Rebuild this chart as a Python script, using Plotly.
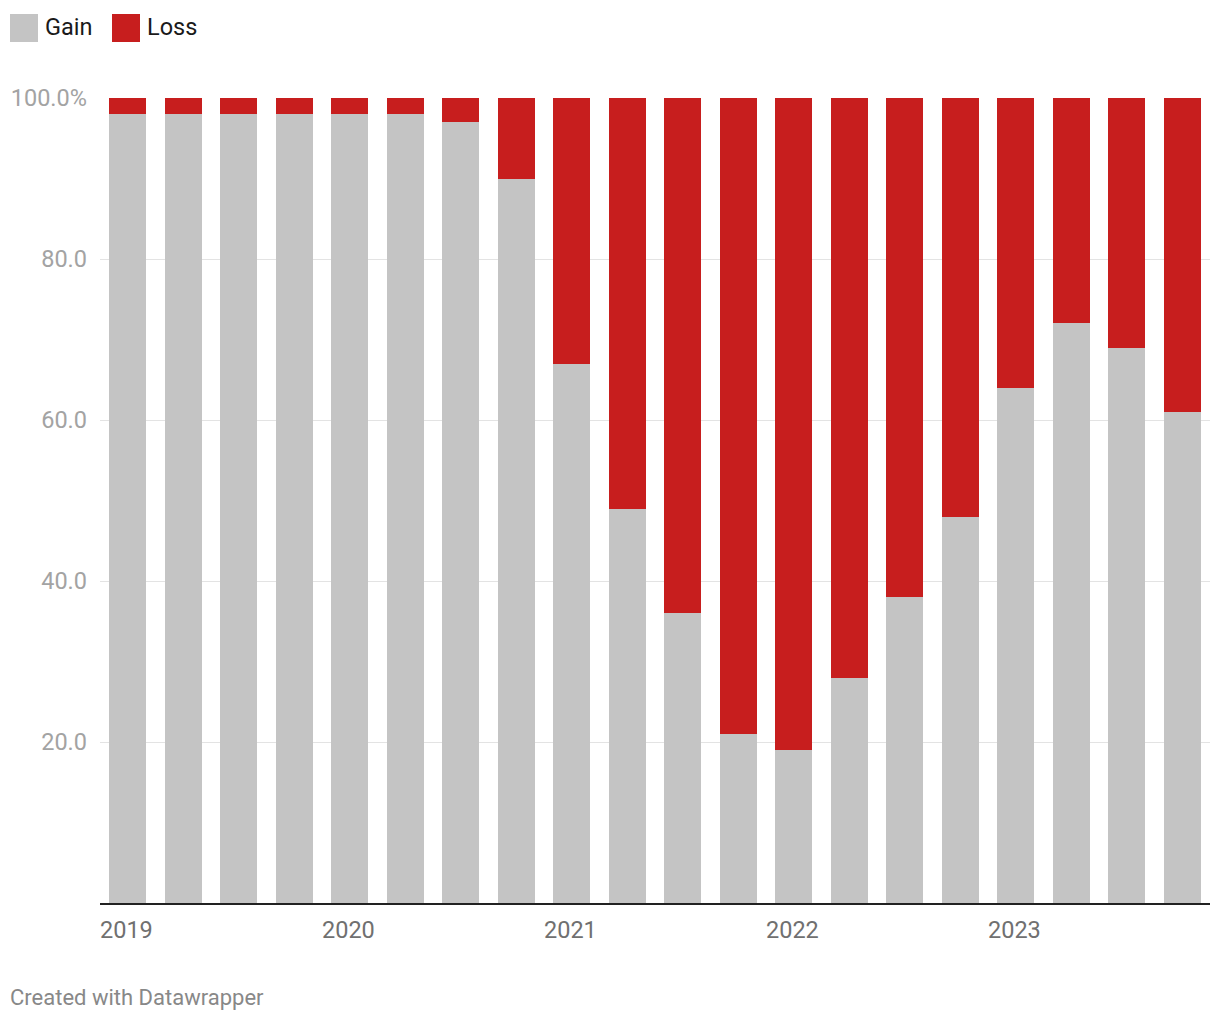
import plotly.graph_objects as go

quarters = ["2019 Q1", "2019 Q2", "2019 Q3", "2019 Q4",
            "2020 Q1", "2020 Q2", "2020 Q3", "2020 Q4",
            "2021 Q1", "2021 Q2", "2021 Q3", "2021 Q4",
            "2022 Q1", "2022 Q2", "2022 Q3", "2022 Q4",
            "2023 Q1", "2023 Q2", "2023 Q3", "2023 Q4"]
gain = [98, 98, 98, 98, 98, 98, 97, 90, 67, 49, 36, 21, 19, 28, 38, 48, 64, 72, 69, 61]
loss = [2, 2, 2, 2, 2, 2, 3, 10, 33, 51, 64, 79, 81, 72, 62, 52, 36, 28, 31, 39]
year_labels = ["2019", "2020", "2021", "2022", "2023"]
y_ticks = [20, 40, 60, 80, 100]
y_tick_text = ["20.0", "40.0", "60.0", "80.0", "100.0%"]

W, H = 1220, 1020
OFF = 8  # page offset
L, R, T, B = 100 - OFF, 18, 98 - OFF, 1020 - (903 - OFF)
PW, PH = W - L - R, H - T - B

def px(x):
    return (x - OFF - L) / PW

def py(y):
    return (H - B - (y - OFF)) / PH

GAIN_C = "#c4c4c4"
LOSS_C = "#c71e1e"

xs = list(range(len(quarters)))
fig = go.Figure()
fig.add_trace(go.Bar(x=xs, y=gain, name="Gain", marker_color=GAIN_C,
                     marker_line_width=0, hovertext=quarters))
fig.add_trace(go.Bar(x=xs, y=loss, name="Loss", marker_color=LOSS_C,
                     marker_line_width=0, hovertext=quarters))

annotations = []
for i, yl in enumerate(year_labels):
    annotations.append(dict(x=i * 4 - 0.5, y=0, xref="x", yref="paper",
                            text=yl, showarrow=False, xanchor="left",
                            yanchor="middle", yshift=-27, xshift=-2,
                            font=dict(family="Roboto", size=23.5, color="#707070")))
annotations.append(dict(x=px(8), y=py(997), xref="paper", yref="paper",
                        text="Created with Datawrapper", showarrow=False,
                        xanchor="left", yanchor="middle",
                        font=dict(family="Roboto", size=22, color="#888888")))
# custom legend
shapes = []
legend_items = [("Gain", GAIN_C, 10, 45), ("Loss", LOSS_C, 112, 147)]
for name, col, sx, tx in legend_items:
    shapes.append(dict(type="rect", xref="paper", yref="paper",
                       x0=px(sx), x1=px(sx + 28), y0=py(42), y1=py(14),
                       fillcolor=col, line=dict(width=0)))
    annotations.append(dict(x=px(tx - 2), y=py(27), xref="paper", yref="paper",
                            text=name, showarrow=False, xanchor="left",
                            yanchor="middle",
                            font=dict(family="Roboto", size=23.5, color="#1a1a1a")))

fig.update_layout(
    width=W, height=H,
    margin=dict(l=L, r=R, t=T, b=B, pad=0, autoexpand=False),
    barmode="stack", bargap=0.333,
    plot_bgcolor="white", paper_bgcolor="white",
    showlegend=False,
    font=dict(family="Roboto"),
    annotations=annotations, shapes=shapes,
    xaxis=dict(range=[-0.5, len(quarters) - 0.5], showticklabels=False,
               showgrid=False, zeroline=False, showline=True, automargin=False,
               linecolor="#222222", linewidth=2, ticks=""),
    yaxis=dict(range=[0, 100], tickvals=y_ticks, ticktext=y_tick_text,
               showgrid=True, gridcolor="#e3e3e3", gridwidth=1, automargin=False,
               zeroline=False, showline=False, ticks="",
               ticklabelstandoff=12,
               tickfont=dict(family="Roboto", size=23.5, color="#a3a3a3")),
)

fig.write_html("out.html")
